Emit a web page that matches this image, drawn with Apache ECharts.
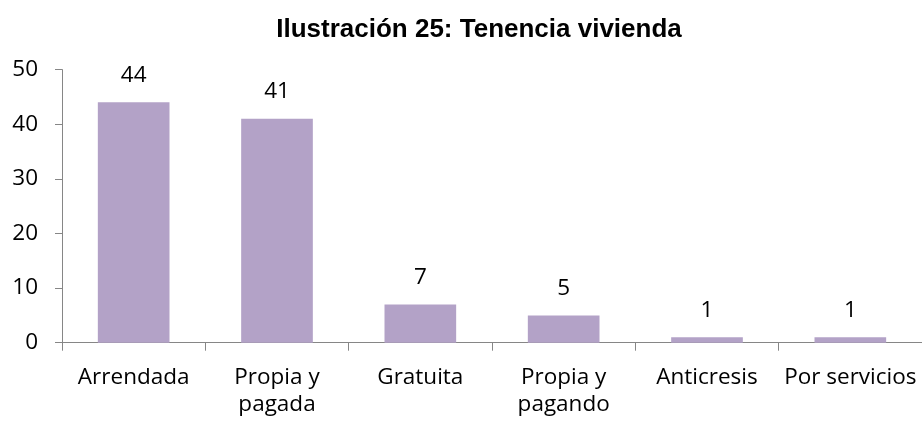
<!DOCTYPE html>
<html><head><meta charset="utf-8">
<script src="https://cdn.jsdelivr.net/npm/echarts@6/dist/echarts.min.js"></script>
<style>html,body{margin:0;padding:0;background:#fff}#c{width:922px;height:421px}</style>
</head><body><div id="c"></div>
<script>
const titleText = 'Ilustración 25: Tenencia vivienda';
const categories = ['Arrendada', 'Propia y\npagada', 'Gratuita', 'Propia y\npagando', 'Anticresis', 'Por servicios'];
const values = [44, 41, 7, 5, 1, 1];
const yTicks = [0, 10, 20, 30, 40, 50];

const chart = echarts.init(document.getElementById('c'));
const axisColor = '#868686';
const font = '"Open Sans", sans-serif';
chart.setOption({
  animation: false,
  title: {
    text: titleText, left: 474, top: 12, textAlign: 'center',
    textStyle: { fontFamily: '"Liberation Sans", Arial, sans-serif', fontWeight: 'bold', fontSize: 26, color: '#000' }
  },
  grid: { left: 62, right: 0, top: 69.6, bottom: 78.3, containLabel: false },
  xAxis: {
    type: 'category', data: categories,
    axisLine: { lineStyle: { color: axisColor, width: 1 } },
    axisTick: { show: true, length: 8, lineStyle: { color: axisColor } },
    axisLabel: { interval: 0, margin: 21, fontFamily: font, fontSize: 22.5, color: '#000', lineHeight: 27 }
  },
  yAxis: {
    type: 'value', min: yTicks[0], max: yTicks[yTicks.length - 1], interval: 10,
    axisLine: { show: true, lineStyle: { color: axisColor, width: 1 } },
    axisTick: { show: true, length: 7, lineStyle: { color: axisColor } },
    splitLine: { show: false },
    axisLabel: { margin: 24, fontFamily: font, fontSize: 22.5, color: '#000' }
  },
  series: [{
    type: 'bar', data: values, barWidth: '50%',
    itemStyle: { color: '#B3A2C7' },
    label: { show: true, position: 'top', distance: 15, fontFamily: font, fontSize: 22.5, color: '#000', lineHeight: 24 }
  }]
});
</script></body></html>
